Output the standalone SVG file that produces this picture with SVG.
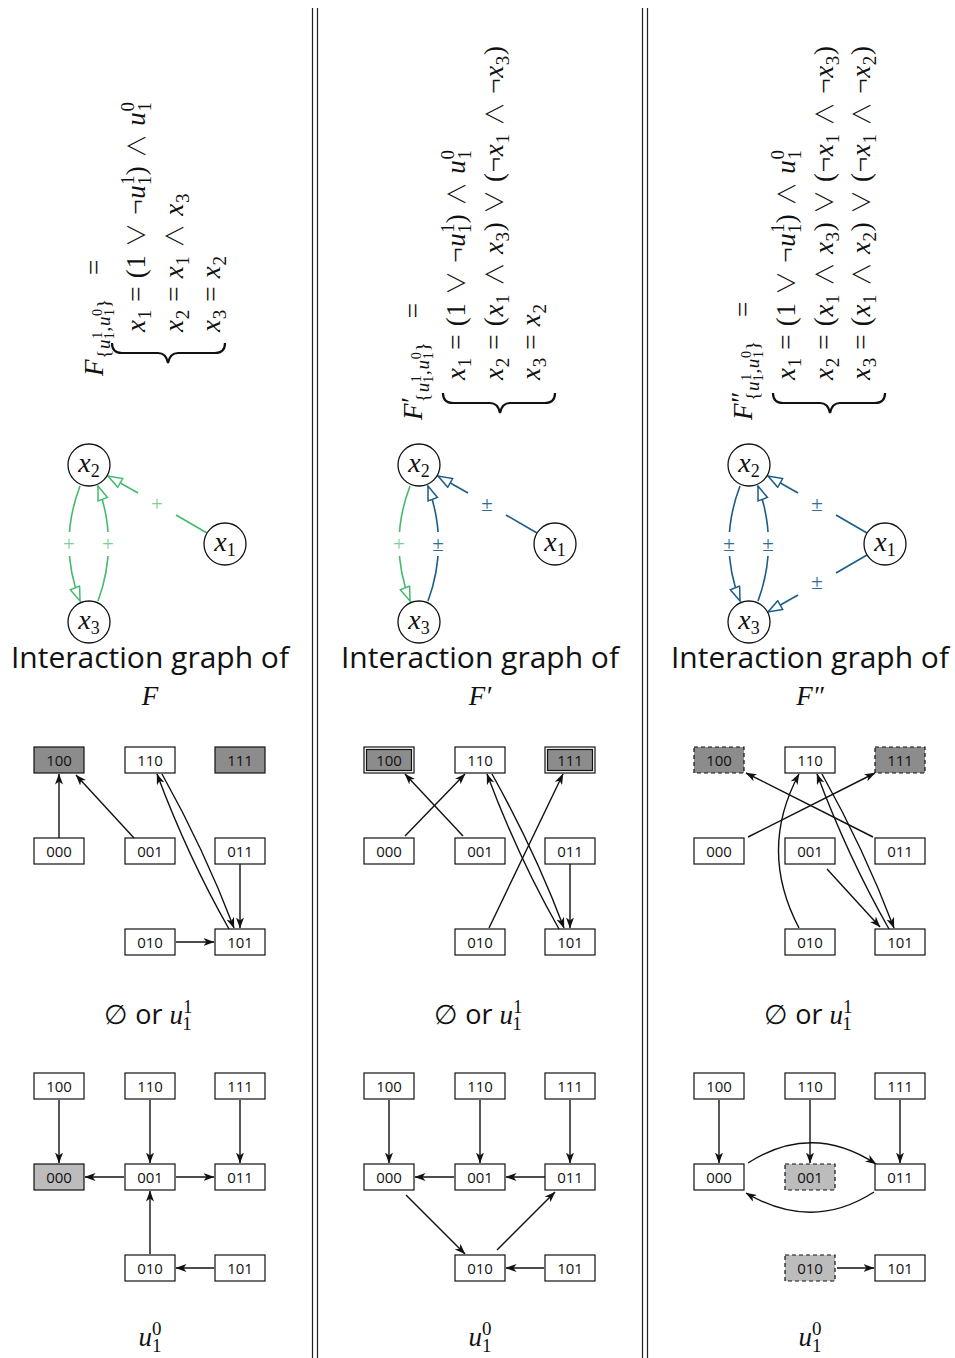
<svg xmlns="http://www.w3.org/2000/svg" width="955" height="1358" viewBox="0 0 955 1358">
<defs>
<style>
.m{font-family:"Liberation Serif","DejaVu Serif",serif;font-size:27px;fill:#111}
.f{letter-spacing:0.7px}
.i{font-style:italic}
.s{font-size:19px}
.ss{font-size:14px}
.op{font-family:"Noto Sans CJK JP","DejaVu Sans",sans-serif;font-weight:300;font-size:24px}
.sans{font-family:"Open Sans","Noto Sans",sans-serif;fill:#111}
.cap{font-size:30px;text-anchor:middle}
.nd{fill:#fff;stroke:#111;stroke-width:1.3}
.nl{font-family:"Liberation Serif","DejaVu Serif",serif;font-size:28px;fill:#111;text-anchor:middle}
.g{stroke:#44bb6c;stroke-width:1.6;fill:none}
.b{stroke:#1a5c8a;stroke-width:1.6;fill:none}
.gm{marker-end:url(#ag)}
.bm{marker-end:url(#ab)}
.gl{font-family:"Liberation Serif","DejaVu Serif",serif;font-size:21px;fill:#7ccf97;text-anchor:middle}
.bl{font-family:"Liberation Serif","DejaVu Serif",serif;font-size:21px;fill:#2d6d99;text-anchor:middle}
.bx{fill:#fff;stroke:#111;stroke-width:1.2}
.dk{fill:#8c8c8c}
.lt{fill:#bcbcbc}
.ds{stroke-dasharray:4 3}
.bt{font-family:"Open Sans","Noto Sans",sans-serif;font-size:15px;text-anchor:middle;fill:#111}
.a{stroke:#111;stroke-width:1.4;fill:none;marker-end:url(#st)}
.sep{stroke:#222;stroke-width:1.2}
.br{fill:none;stroke:#111;stroke-width:2.2}
.wr{fill:#fff}
</style>
<marker id="st" viewBox="0 0 11 8" refX="10.5" refY="4" markerWidth="11" markerHeight="8" markerUnits="userSpaceOnUse" orient="auto"><path d="M0,0 L11,4 L0,8 L3,4 z" fill="#111"/></marker>
<marker id="ag" viewBox="-1 -1 16 12" refX="14" refY="5" markerWidth="16" markerHeight="12" markerUnits="userSpaceOnUse" orient="auto"><path d="M0,0 L14,5 L0,10 z" fill="#fff" stroke="#44bb6c" stroke-width="1.5"/></marker>
<marker id="ab" viewBox="-1 -1 16 12" refX="14" refY="5" markerWidth="16" markerHeight="12" markerUnits="userSpaceOnUse" orient="auto"><path d="M0,0 L14,5 L0,10 z" fill="#fff" stroke="#1a5c8a" stroke-width="1.5"/></marker>
</defs>
<rect width="955" height="1358" fill="#fff"/>

<g id="separators">
<line class="sep" x1="312.5" y1="8" x2="312.5" y2="1358"/>
<line class="sep" x1="317.5" y1="8" x2="317.5" y2="1358"/>
<line class="sep" x1="642.5" y1="8" x2="642.5" y2="1358"/>
<line class="sep" x1="647.5" y1="8" x2="647.5" y2="1358"/>
</g>

<g id="formula-F">
<g transform="rotate(-90)">
<text class="m f" x="-376" y="103"><tspan class="i">F</tspan><tspan class="s" dy="7">{</tspan><tspan class="s i">u</tspan><tspan class="ss" dy="-8">1</tspan><tspan class="ss" dx="-7.7" dy="12">1</tspan><tspan class="s" dy="-4">,</tspan><tspan class="s i">u</tspan><tspan class="ss" dy="-8">0</tspan><tspan class="ss" dx="-7.7" dy="12">1</tspan><tspan class="s" dy="-4">}</tspan><tspan dy="-7" dx="16"> =</tspan></text>
<text class="m f" x="-332" y="145"><tspan class="i">x</tspan><tspan class="s" dy="6">1</tspan><tspan dy="-6"> = (1 </tspan><tspan class="op">∨</tspan><tspan> ¬</tspan><tspan class="i">u</tspan><tspan class="s" dy="-11">1</tspan><tspan class="s" dx="-10.2" dy="17">1</tspan><tspan dy="-6">) </tspan><tspan class="op">∧</tspan><tspan> </tspan><tspan class="i">u</tspan><tspan class="s" dy="-11">0</tspan><tspan class="s" dx="-10.2" dy="17">1</tspan></text>
<text class="m f" x="-332" y="183"><tspan class="i">x</tspan><tspan class="s" dy="6">2</tspan><tspan dy="-6"> = </tspan><tspan class="i">x</tspan><tspan class="s" dy="6">1</tspan><tspan dy="-6"> </tspan><tspan class="op">∧</tspan><tspan> </tspan><tspan class="i">x</tspan><tspan class="s" dy="6">3</tspan></text>
<text class="m f" x="-332" y="220"><tspan class="i">x</tspan><tspan class="s" dy="6">3</tspan><tspan dy="-6"> = </tspan><tspan class="i">x</tspan><tspan class="s" dy="6">2</tspan></text>
</g>
<path class="br" d="M112,343 Q112,353 122,353 L158,353 Q166,353 168,363 Q170,353 178,353 L215,353 Q225,353 225,343"/>
</g>

<g id="formula-F1">
<g transform="rotate(-90)">
<text class="m f" x="-420" y="422"><tspan class="i">F</tspan><tspan dy="-2">′</tspan><tspan class="s" dx="-6" dy="9">{</tspan><tspan class="s i">u</tspan><tspan class="ss" dy="-8">1</tspan><tspan class="ss" dx="-7.7" dy="12">1</tspan><tspan class="s" dy="-4">,</tspan><tspan class="s i">u</tspan><tspan class="ss" dy="-8">0</tspan><tspan class="ss" dx="-7.7" dy="12">1</tspan><tspan class="s" dy="-4">}</tspan><tspan dy="-7" dx="16"> =</tspan></text>
<text class="m f" x="-380" y="465"><tspan class="i">x</tspan><tspan class="s" dy="6">1</tspan><tspan dy="-6"> = (1 </tspan><tspan class="op">∨</tspan><tspan> ¬</tspan><tspan class="i">u</tspan><tspan class="s" dy="-11">1</tspan><tspan class="s" dx="-10.2" dy="17">1</tspan><tspan dy="-6">) </tspan><tspan class="op">∧</tspan><tspan> </tspan><tspan class="i">u</tspan><tspan class="s" dy="-11">0</tspan><tspan class="s" dx="-10.2" dy="17">1</tspan></text>
<text class="m f" x="-380" y="503"><tspan class="i">x</tspan><tspan class="s" dy="6">2</tspan><tspan dy="-6"> = (</tspan><tspan class="i">x</tspan><tspan class="s" dy="6">1</tspan><tspan dy="-6"> </tspan><tspan class="op">∧</tspan><tspan> </tspan><tspan class="i">x</tspan><tspan class="s" dy="6">3</tspan><tspan dy="-6">) </tspan><tspan class="op">∨</tspan><tspan> (¬</tspan><tspan class="i">x</tspan><tspan class="s" dy="6">1</tspan><tspan dy="-6"> </tspan><tspan class="op">∧</tspan><tspan> ¬</tspan><tspan class="i">x</tspan><tspan class="s" dy="6">3</tspan><tspan dy="-6">)</tspan></text>
<text class="m f" x="-380" y="540"><tspan class="i">x</tspan><tspan class="s" dy="6">3</tspan><tspan dy="-6"> = </tspan><tspan class="i">x</tspan><tspan class="s" dy="6">2</tspan></text>
</g>
<path class="br" d="M443,393 Q443,403 453,403 L490,403 Q498,403 500,413 Q502,403 510,403 L545,403 Q555,403 555,393"/>
</g>

<g id="formula-F2">
<g transform="rotate(-90)">
<text class="m f" x="-420" y="752"><tspan class="i">F</tspan><tspan dy="-2">″</tspan><tspan class="s" dx="-10" dy="9">{</tspan><tspan class="s i">u</tspan><tspan class="ss" dy="-8">1</tspan><tspan class="ss" dx="-7.7" dy="12">1</tspan><tspan class="s" dy="-4">,</tspan><tspan class="s i">u</tspan><tspan class="ss" dy="-8">0</tspan><tspan class="ss" dx="-7.7" dy="12">1</tspan><tspan class="s" dy="-4">}</tspan><tspan dy="-7" dx="16"> =</tspan></text>
<text class="m f" x="-380" y="795"><tspan class="i">x</tspan><tspan class="s" dy="6">1</tspan><tspan dy="-6"> = (1 </tspan><tspan class="op">∨</tspan><tspan> ¬</tspan><tspan class="i">u</tspan><tspan class="s" dy="-11">1</tspan><tspan class="s" dx="-10.2" dy="17">1</tspan><tspan dy="-6">) </tspan><tspan class="op">∧</tspan><tspan> </tspan><tspan class="i">u</tspan><tspan class="s" dy="-11">0</tspan><tspan class="s" dx="-10.2" dy="17">1</tspan></text>
<text class="m f" x="-380" y="833"><tspan class="i">x</tspan><tspan class="s" dy="6">2</tspan><tspan dy="-6"> = (</tspan><tspan class="i">x</tspan><tspan class="s" dy="6">1</tspan><tspan dy="-6"> </tspan><tspan class="op">∧</tspan><tspan> </tspan><tspan class="i">x</tspan><tspan class="s" dy="6">3</tspan><tspan dy="-6">) </tspan><tspan class="op">∨</tspan><tspan> (¬</tspan><tspan class="i">x</tspan><tspan class="s" dy="6">1</tspan><tspan dy="-6"> </tspan><tspan class="op">∧</tspan><tspan> ¬</tspan><tspan class="i">x</tspan><tspan class="s" dy="6">3</tspan><tspan dy="-6">)</tspan></text>
<text class="m f" x="-380" y="870"><tspan class="i">x</tspan><tspan class="s" dy="6">3</tspan><tspan dy="-6"> = (</tspan><tspan class="i">x</tspan><tspan class="s" dy="6">1</tspan><tspan dy="-6"> </tspan><tspan class="op">∧</tspan><tspan> </tspan><tspan class="i">x</tspan><tspan class="s" dy="6">2</tspan><tspan dy="-6">) </tspan><tspan class="op">∨</tspan><tspan> (¬</tspan><tspan class="i">x</tspan><tspan class="s" dy="6">1</tspan><tspan dy="-6"> </tspan><tspan class="op">∧</tspan><tspan> ¬</tspan><tspan class="i">x</tspan><tspan class="s" dy="6">2</tspan><tspan dy="-6">)</tspan></text>
</g>
<path class="br" d="M773,393 Q773,403 783,403 L820,403 Q828,403 830,413 Q832,403 840,403 L875,403 Q885,403 885,393"/>
</g>

<g id="ig-connectors">
<line class="g" x1="207" y1="533" x2="176" y2="515"/>
<line class="g gm" x1="138" y1="493" x2="108" y2="476"/>
<text class="gl" x="157" y="511">+</text>
<path class="g gm" d="M80,486 Q58,544 80,601"/>
<rect class="wr" x="61" y="532" width="16" height="24"/>
<text class="gl" x="69" y="551">+</text>
<path class="g gm" d="M98,601 Q119,544 98,486"/>
<rect class="wr" x="100" y="532" width="16" height="24"/>
<text class="gl" x="108" y="551">+</text>
<line class="b" x1="537" y1="533" x2="506" y2="515"/>
<line class="b bm" x1="468" y1="493" x2="438" y2="476"/>
<text class="bl" x="487" y="511">±</text>
<path class="g gm" d="M410,486 Q388,544 410,601"/>
<rect class="wr" x="391" y="532" width="16" height="24"/>
<text class="gl" x="399" y="551">+</text>
<path class="b bm" d="M428,601 Q449,544 428,486"/>
<rect class="wr" x="430" y="532" width="16" height="24"/>
<text class="bl" x="438" y="551">±</text>
<line class="b" x1="867" y1="533" x2="836" y2="515"/>
<line class="b bm" x1="798" y1="493" x2="768" y2="476"/>
<text class="bl" x="817" y="511">±</text>
<line class="b" x1="867" y1="555" x2="836" y2="573"/>
<line class="b bm" x1="798" y1="595" x2="768" y2="612"/>
<text class="bl" x="817" y="589">±</text>
<path class="b bm" d="M740,486 Q718,544 740,601"/>
<rect class="wr" x="721" y="532" width="16" height="24"/>
<text class="bl" x="729" y="551">±</text>
<path class="b bm" d="M758,601 Q779,544 758,486"/>
<rect class="wr" x="760" y="532" width="16" height="24"/>
<text class="bl" x="768" y="551">±</text>
</g>

<g id="c1-x2"><circle class="nd" cx="89" cy="465" r="21"/><text class="nl" x="89" y="472"><tspan class="i">x</tspan><tspan font-size="18" dy="5">2</tspan></text></g>
<g id="c1-x3"><circle class="nd" cx="89" cy="622" r="21"/><text class="nl" x="89" y="629"><tspan class="i">x</tspan><tspan font-size="18" dy="5">3</tspan></text></g>
<g id="c1-x1"><circle class="nd" cx="225" cy="544" r="21"/><text class="nl" x="225" y="551"><tspan class="i">x</tspan><tspan font-size="18" dy="5">1</tspan></text></g>
<g id="c2-x2"><circle class="nd" cx="419" cy="465" r="21"/><text class="nl" x="419" y="472"><tspan class="i">x</tspan><tspan font-size="18" dy="5">2</tspan></text></g>
<g id="c2-x3"><circle class="nd" cx="419" cy="622" r="21"/><text class="nl" x="419" y="629"><tspan class="i">x</tspan><tspan font-size="18" dy="5">3</tspan></text></g>
<g id="c2-x1"><circle class="nd" cx="555" cy="544" r="21"/><text class="nl" x="555" y="551"><tspan class="i">x</tspan><tspan font-size="18" dy="5">1</tspan></text></g>
<g id="c3-x2"><circle class="nd" cx="749" cy="465" r="21"/><text class="nl" x="749" y="472"><tspan class="i">x</tspan><tspan font-size="18" dy="5">2</tspan></text></g>
<g id="c3-x3"><circle class="nd" cx="749" cy="622" r="21"/><text class="nl" x="749" y="629"><tspan class="i">x</tspan><tspan font-size="18" dy="5">3</tspan></text></g>
<g id="c3-x1"><circle class="nd" cx="885" cy="544" r="21"/><text class="nl" x="885" y="551"><tspan class="i">x</tspan><tspan font-size="18" dy="5">1</tspan></text></g>

<g id="captions">
<text class="sans cap" x="150" y="668">Interaction graph of</text>
<text class="sans cap" x="480" y="668">Interaction graph of</text>
<text class="sans cap" x="810" y="668">Interaction graph of</text>
<text class="m i" x="150" y="705" font-size="28" text-anchor="middle">F</text>
<text class="m i" x="480" y="705" font-size="28" text-anchor="middle">F′</text>
<text class="m i" x="810" y="705" font-size="28" text-anchor="middle">F″</text>
<text class="m" x="148" y="1024" font-size="27" text-anchor="middle">∅<tspan class="sans"> or </tspan><tspan class="i">u</tspan><tspan class="s" dy="-11">1</tspan><tspan class="s" dx="-9.5" dy="17">1</tspan></text>
<text class="m" x="478" y="1024" font-size="27" text-anchor="middle">∅<tspan class="sans"> or </tspan><tspan class="i">u</tspan><tspan class="s" dy="-11">1</tspan><tspan class="s" dx="-9.5" dy="17">1</tspan></text>
<text class="m" x="808" y="1024" font-size="27" text-anchor="middle">∅<tspan class="sans"> or </tspan><tspan class="i">u</tspan><tspan class="s" dy="-11">1</tspan><tspan class="s" dx="-9.5" dy="17">1</tspan></text>
<text class="m" x="150" y="1346" font-size="27" text-anchor="middle"><tspan class="i">u</tspan><tspan class="s" dy="-11">0</tspan><tspan class="s" dx="-9.5" dy="17">1</tspan></text>
<text class="m" x="480" y="1346" font-size="27" text-anchor="middle"><tspan class="i">u</tspan><tspan class="s" dy="-11">0</tspan><tspan class="s" dx="-9.5" dy="17">1</tspan></text>
<text class="m" x="810" y="1346" font-size="27" text-anchor="middle"><tspan class="i">u</tspan><tspan class="s" dy="-11">0</tspan><tspan class="s" dx="-9.5" dy="17">1</tspan></text>
</g>

<g id="state-connectors">
<path class="a" d="M59,838 L59,774"/>
<path class="a" d="M134,838 L76,775"/>
<path class="a" d="M162,774 Q204,849 234,928"/>
<path class="a" d="M229,929 Q188,857 157,774"/>
<path class="a" d="M240,864 L240,928"/>
<path class="a" d="M176,942 L214,942"/>
<path class="a" d="M405,836 L465,774"/>
<path class="a" d="M463,836 L405,774"/>
<path class="a" d="M492,774 Q534,849 564,928"/>
<path class="a" d="M559,929 Q518,857 487,774"/>
<path class="a" d="M489,928 L563,774"/>
<path class="a" d="M570,864 L570,928"/>
<path class="a" d="M748,837 L875,773"/>
<path class="a" d="M873,837 L746,773"/>
<path class="a" d="M799,928 Q758,850 799,774"/>
<path class="a" d="M822,774 Q864,849 894,928"/>
<path class="a" d="M889,929 Q848,857 817,774"/>
<path class="a" d="M827,869 L880,927"/>
<path class="a" d="M59,1100 L59,1163"/>
<path class="a" d="M150,1100 L150,1163"/>
<path class="a" d="M240,1100 L240,1163"/>
<path class="a" d="M124,1177 L85,1177"/>
<path class="a" d="M176,1177 L214,1177"/>
<path class="a" d="M150,1254 L150,1191"/>
<path class="a" d="M214,1268 L176,1268"/>
<path class="a" d="M389,1100 L389,1163"/>
<path class="a" d="M480,1100 L480,1163"/>
<path class="a" d="M570,1100 L570,1163"/>
<path class="a" d="M454,1177 L415,1177"/>
<path class="a" d="M545,1177 L506,1177"/>
<path class="a" d="M406,1195 L465,1254"/>
<path class="a" d="M497,1250 L555,1192"/>
<path class="a" d="M544,1268 L506,1268"/>
<path class="a" d="M719,1100 L719,1163"/>
<path class="a" d="M810,1100 L810,1163"/>
<path class="a" d="M900,1100 L900,1163"/>
<path class="a" d="M748,1163 Q812,1122 876,1164"/>
<path class="a" d="M874,1192 Q812,1232 746,1193"/>
<path class="a" d="M837,1268 L874,1268"/>
</g>

<g id="t1-100"><rect class="bx dk" x="34" y="747" width="50" height="26"/><text class="bt" x="59" y="765.5">100</text></g>
<g id="t1-110"><rect class="bx" x="125" y="747" width="50" height="26"/><text class="bt" x="150" y="765.5">110</text></g>
<g id="t1-111"><rect class="bx dk" x="215" y="747" width="50" height="26"/><text class="bt" x="240" y="765.5">111</text></g>
<g id="t1-000"><rect class="bx" x="34" y="838" width="50" height="26"/><text class="bt" x="59" y="856.5">000</text></g>
<g id="t1-001"><rect class="bx" x="125" y="838" width="50" height="26"/><text class="bt" x="150" y="856.5">001</text></g>
<g id="t1-011"><rect class="bx" x="215" y="838" width="50" height="26"/><text class="bt" x="240" y="856.5">011</text></g>
<g id="t1-010"><rect class="bx" x="125" y="929" width="50" height="26"/><text class="bt" x="150" y="947.5">010</text></g>
<g id="t1-101"><rect class="bx" x="215" y="929" width="50" height="26"/><text class="bt" x="240" y="947.5">101</text></g>
<g id="t2-100"><rect class="bx" x="364" y="747" width="50" height="26"/><rect class="bx dk" x="366.5" y="749.5" width="45" height="21"/><text class="bt" x="389" y="765.5">100</text></g>
<g id="t2-110"><rect class="bx" x="455" y="747" width="50" height="26"/><text class="bt" x="480" y="765.5">110</text></g>
<g id="t2-111"><rect class="bx" x="545" y="747" width="50" height="26"/><rect class="bx dk" x="547.5" y="749.5" width="45" height="21"/><text class="bt" x="570" y="765.5">111</text></g>
<g id="t2-000"><rect class="bx" x="364" y="838" width="50" height="26"/><text class="bt" x="389" y="856.5">000</text></g>
<g id="t2-001"><rect class="bx" x="455" y="838" width="50" height="26"/><text class="bt" x="480" y="856.5">001</text></g>
<g id="t2-011"><rect class="bx" x="545" y="838" width="50" height="26"/><text class="bt" x="570" y="856.5">011</text></g>
<g id="t2-010"><rect class="bx" x="455" y="929" width="50" height="26"/><text class="bt" x="480" y="947.5">010</text></g>
<g id="t2-101"><rect class="bx" x="545" y="929" width="50" height="26"/><text class="bt" x="570" y="947.5">101</text></g>
<g id="t3-100"><rect class="bx dk ds" x="694" y="747" width="50" height="26"/><text class="bt" x="719" y="765.5">100</text></g>
<g id="t3-110"><rect class="bx" x="785" y="747" width="50" height="26"/><text class="bt" x="810" y="765.5">110</text></g>
<g id="t3-111"><rect class="bx dk ds" x="875" y="747" width="50" height="26"/><text class="bt" x="900" y="765.5">111</text></g>
<g id="t3-000"><rect class="bx" x="694" y="838" width="50" height="26"/><text class="bt" x="719" y="856.5">000</text></g>
<g id="t3-001"><rect class="bx" x="785" y="838" width="50" height="26"/><text class="bt" x="810" y="856.5">001</text></g>
<g id="t3-011"><rect class="bx" x="875" y="838" width="50" height="26"/><text class="bt" x="900" y="856.5">011</text></g>
<g id="t3-010"><rect class="bx" x="785" y="929" width="50" height="26"/><text class="bt" x="810" y="947.5">010</text></g>
<g id="t3-101"><rect class="bx" x="875" y="929" width="50" height="26"/><text class="bt" x="900" y="947.5">101</text></g>

<g id="b1-100"><rect class="bx" x="34" y="1073" width="50" height="26"/><text class="bt" x="59" y="1091.5">100</text></g>
<g id="b1-110"><rect class="bx" x="125" y="1073" width="50" height="26"/><text class="bt" x="150" y="1091.5">110</text></g>
<g id="b1-111"><rect class="bx" x="215" y="1073" width="50" height="26"/><text class="bt" x="240" y="1091.5">111</text></g>
<g id="b1-000"><rect class="bx lt" x="34" y="1164" width="50" height="26"/><text class="bt" x="59" y="1182.5">000</text></g>
<g id="b1-001"><rect class="bx" x="125" y="1164" width="50" height="26"/><text class="bt" x="150" y="1182.5">001</text></g>
<g id="b1-011"><rect class="bx" x="215" y="1164" width="50" height="26"/><text class="bt" x="240" y="1182.5">011</text></g>
<g id="b1-010"><rect class="bx" x="125" y="1255" width="50" height="26"/><text class="bt" x="150" y="1273.5">010</text></g>
<g id="b1-101"><rect class="bx" x="215" y="1255" width="50" height="26"/><text class="bt" x="240" y="1273.5">101</text></g>
<g id="b2-100"><rect class="bx" x="364" y="1073" width="50" height="26"/><text class="bt" x="389" y="1091.5">100</text></g>
<g id="b2-110"><rect class="bx" x="455" y="1073" width="50" height="26"/><text class="bt" x="480" y="1091.5">110</text></g>
<g id="b2-111"><rect class="bx" x="545" y="1073" width="50" height="26"/><text class="bt" x="570" y="1091.5">111</text></g>
<g id="b2-000"><rect class="bx" x="364" y="1164" width="50" height="26"/><text class="bt" x="389" y="1182.5">000</text></g>
<g id="b2-001"><rect class="bx" x="455" y="1164" width="50" height="26"/><text class="bt" x="480" y="1182.5">001</text></g>
<g id="b2-011"><rect class="bx" x="545" y="1164" width="50" height="26"/><text class="bt" x="570" y="1182.5">011</text></g>
<g id="b2-010"><rect class="bx" x="455" y="1255" width="50" height="26"/><text class="bt" x="480" y="1273.5">010</text></g>
<g id="b2-101"><rect class="bx" x="545" y="1255" width="50" height="26"/><text class="bt" x="570" y="1273.5">101</text></g>
<g id="b3-100"><rect class="bx" x="694" y="1073" width="50" height="26"/><text class="bt" x="719" y="1091.5">100</text></g>
<g id="b3-110"><rect class="bx" x="785" y="1073" width="50" height="26"/><text class="bt" x="810" y="1091.5">110</text></g>
<g id="b3-111"><rect class="bx" x="875" y="1073" width="50" height="26"/><text class="bt" x="900" y="1091.5">111</text></g>
<g id="b3-000"><rect class="bx" x="694" y="1164" width="50" height="26"/><text class="bt" x="719" y="1182.5">000</text></g>
<g id="b3-001"><rect class="bx lt ds" x="785" y="1164" width="50" height="26"/><text class="bt" x="810" y="1182.5">001</text></g>
<g id="b3-011"><rect class="bx" x="875" y="1164" width="50" height="26"/><text class="bt" x="900" y="1182.5">011</text></g>
<g id="b3-010"><rect class="bx lt ds" x="785" y="1255" width="50" height="26"/><text class="bt" x="810" y="1273.5">010</text></g>
<g id="b3-101"><rect class="bx" x="875" y="1255" width="50" height="26"/><text class="bt" x="900" y="1273.5">101</text></g>
</svg>
